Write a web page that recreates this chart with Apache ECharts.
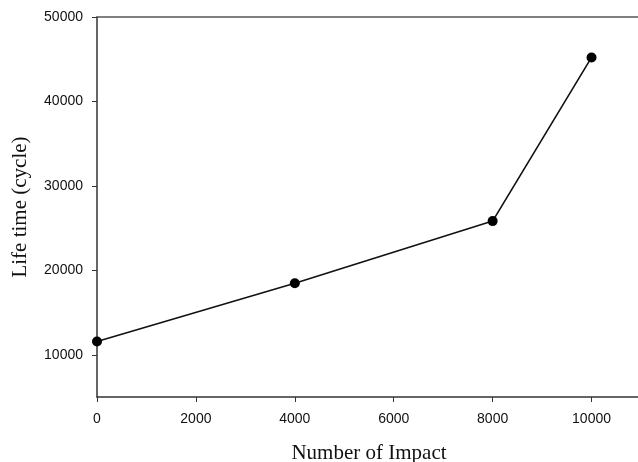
<!DOCTYPE html>
<html>
<head>
<meta charset="utf-8">
<script src="https://cdn.jsdelivr.net/npm/echarts@6/dist/echarts.min.js"></script>
<style>
  html, body { margin: 0; padding: 0; background: #fff; }
  #main { width: 638px; height: 462px; }
</style>
</head>
<body>
<div id="main"></div>
<script>
// data
var impacts = [0, 4000, 8000, 10000];
var lifeTime = [11580, 18470, 25830, 45210];
var xTicks = [0, 2000, 4000, 6000, 8000, 10000];
var yTicks = [10000, 20000, 30000, 40000, 50000];

var points = [];
for (var i = 0; i < impacts.length; i++) {
  points.push([impacts[i], lifeTime[i]]);
}

var axisColor = '#333';
var plain = function (v) { return String(v); };
var chart = echarts.init(document.getElementById('main'), null, { renderer: 'canvas' });

var option = {
  animation: false,
  backgroundColor: '#fff',
  grid: { left: 97, width: 544, top: 17, bottom: 65, containLabel: false, outerBoundsMode: 'none' },
  xAxis: [{
    type: 'value',
    min: 0,
    max: 11000,
    name: 'Number of Impact',
    nameLocation: 'middle',
    nameGap: 46,
    nameTextStyle: { fontFamily: 'Liberation Serif', fontSize: 21, color: '#111' },
    axisLine: { lineStyle: { color: axisColor, width: 1.5 } },
    axisTick: { inside: false, length: 5, customValues: xTicks, lineStyle: { color: axisColor } },
    axisLabel: {
      margin: 15,
      customValues: xTicks,
      fontFamily: 'Liberation Sans', fontSize: 14, color: '#111',
      formatter: plain
    },
    splitLine: { show: false }
  }, {
    type: 'value',
    position: 'top',
    min: 0,
    max: 11000,
    axisLine: { show: true, lineStyle: { color: '#555', width: 1.5 } },
    axisTick: { show: false },
    axisLabel: { show: false },
    splitLine: { show: false }
  }],
  yAxis: {
    type: 'value',
    min: 5000,
    max: 50000,
    name: 'Life time (cycle)',
    nameLocation: 'middle',
    nameGap: 66,
    nameTextStyle: { fontFamily: 'Liberation Serif', fontSize: 21, color: '#111' },
    axisLine: { show: true, lineStyle: { color: axisColor, width: 1.5 } },
    axisTick: { show: true, inside: false, length: 5, customValues: yTicks, lineStyle: { color: axisColor } },
    axisLabel: {
      margin: 14,
      customValues: yTicks,
      fontFamily: 'Liberation Sans', fontSize: 14, color: '#111',
      formatter: plain
    },
    splitLine: { show: false }
  },
  series: [{
    type: 'line',
    data: points,
    symbol: 'circle',
    symbolSize: 10,
    itemStyle: { color: '#000' },
    lineStyle: { color: '#111', width: 1.6 }
  }]
};

chart.setOption(option);
</script>
</body>
</html>
